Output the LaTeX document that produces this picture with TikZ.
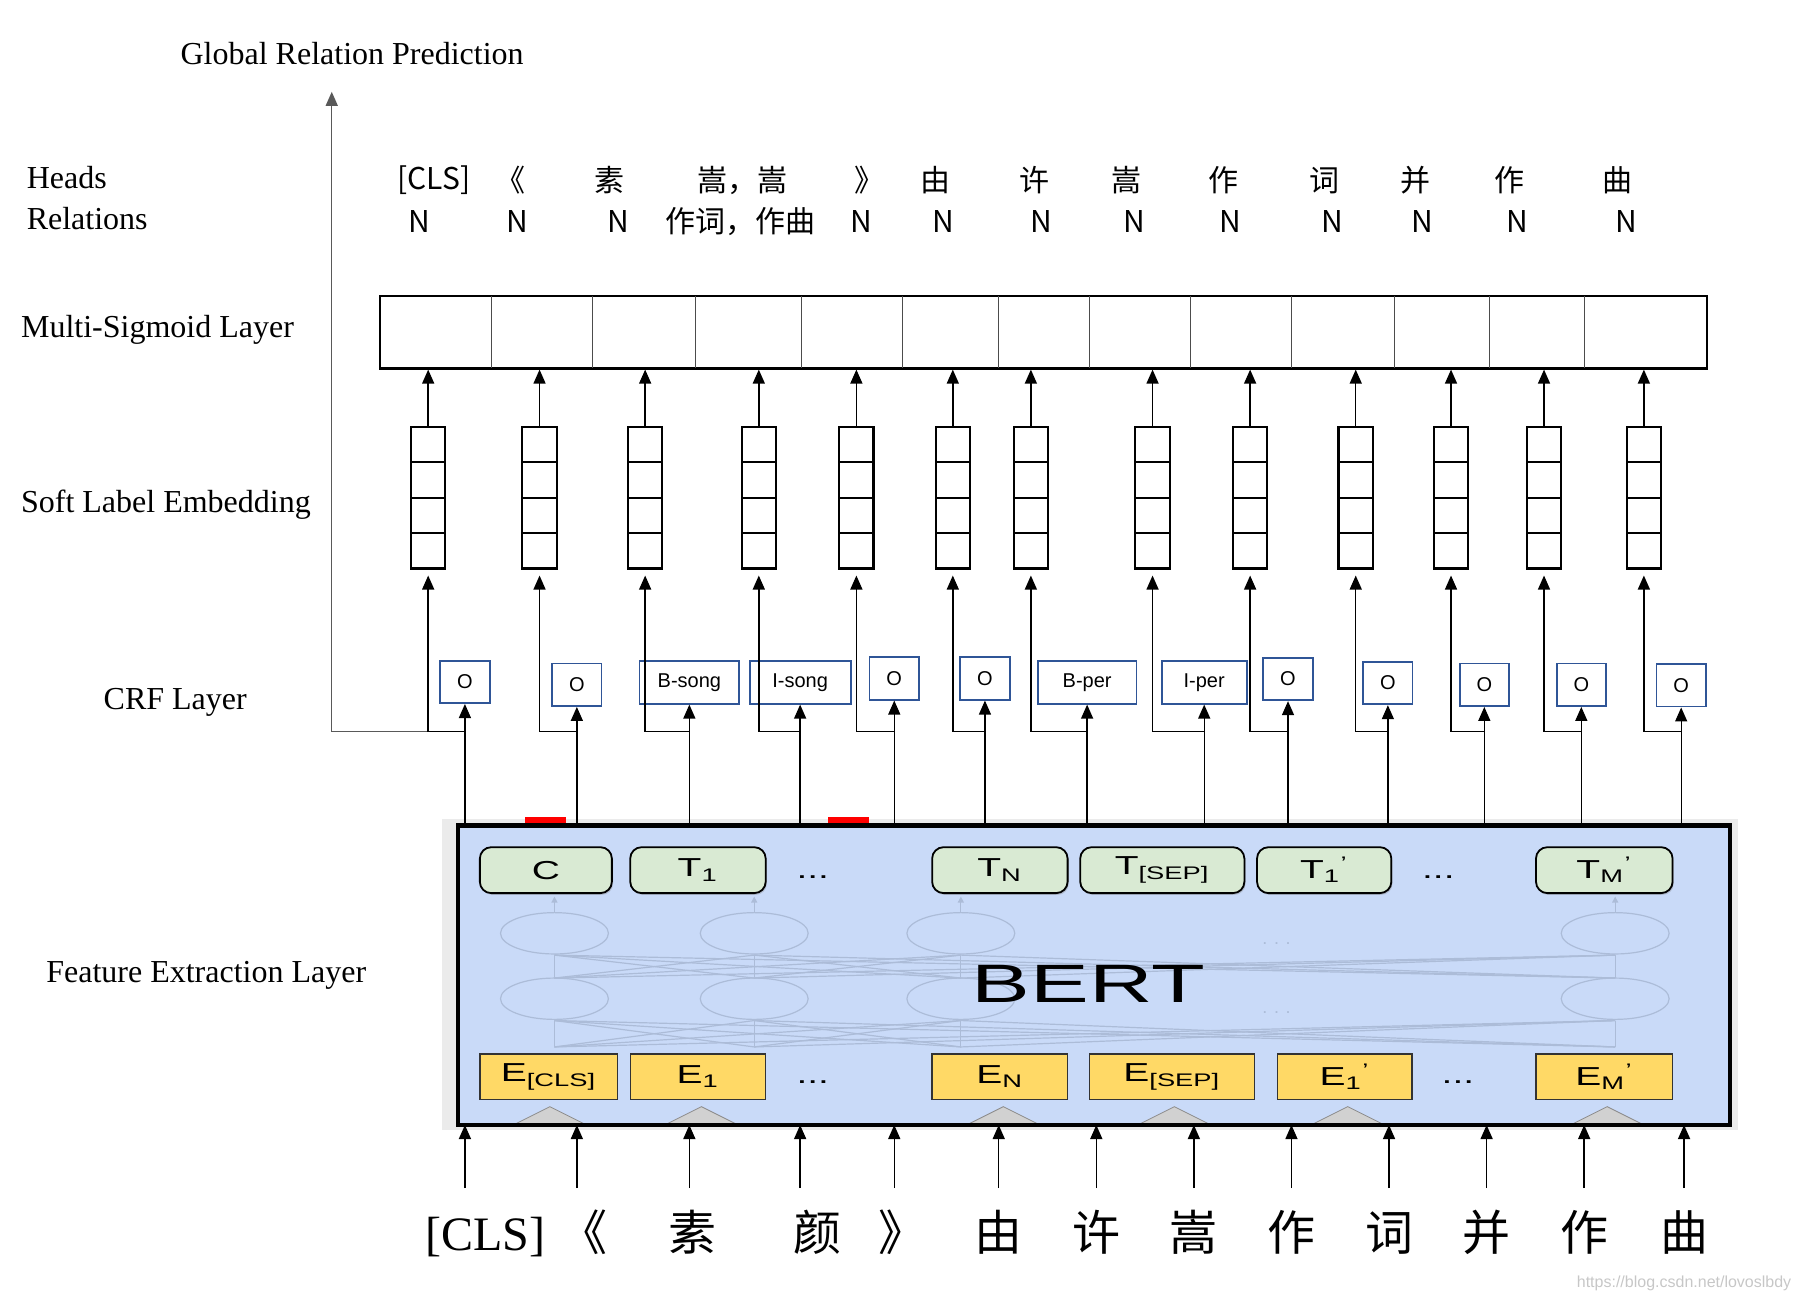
\documentclass[tikz,border=0pt]{standalone}
\usepackage{fontspec,graphicx}
\setmainfont{Liberation Serif}
\setsansfont{Liberation Sans}
\newfontfamily\cjk{Noto Sans CJK SC}
\usetikzlibrary{arrows.meta,shapes.multipart,shadows}
\definecolor{bertblue}{RGB}{201,218,248}
\definecolor{tgreen}{RGB}{217,234,211}
\definecolor{eyellow}{RGB}{255,217,102}
\definecolor{crfblue}{RGB}{47,85,151}
\definecolor{faint}{RGB}{172,188,216}
\newcommand{\upx}{0.574pt}
\newcommand{\hst}[1]{\scalebox{1.5}[1]{#1}}

\begin{document}
\begin{tikzpicture}[x=\upx,y=-\upx,
 lab/.style={anchor=west,inner sep=0,font=\fontsize{16}{18}\selectfont},
 hd/.style={inner sep=0,font=\cjk\fontsize{15}{17}\selectfont},
 wd/.style={inner sep=0,outer ysep=11pt,text height=20pt,text depth=4pt,font=\cjk\fontsize{24}{28}\selectfont},
 crf/.style={draw=crfblue,line width=0.9pt,minimum width=43*\upx,minimum height=37*\upx,inner sep=1pt,font=\sffamily\fontsize{10}{12}\selectfont},
 sl/.style={draw,line width=1.1pt,rectangle split,rectangle split parts=4,rectangle split ignore empty parts=false,
  rectangle split empty part height=16.6pt,rectangle split empty part depth=0pt,rectangle split empty part width=12.6pt,inner sep=0pt},
 tk/.style={draw,rounded corners=2mm,fill=tgreen,line width=0.9pt,minimum height=40*\upx,inner sep=0,
  drop shadow={shadow xshift=0.6pt,shadow yshift=-0.9pt,opacity=.35},font=\sffamily\fontsize{13}{15}\selectfont},
 ek/.style={draw=black!80,fill=eyellow,line width=0.7pt,minimum height=40*\upx,inner sep=0,font=\sffamily\fontsize{13}{15}\selectfont},
 ln/.style={line width=0.7pt},
 >={Triangle[length=7pt,width=6pt]}]
\useasboundingbox (0,0) rectangle (1568,1134);
% layer names
\node[lab] (gl) at (157,47) {Global Relation Prediction};
\node[lab] (hl) at (23,155) {Heads};
\node[lab] (rl) at (23,190) {Relations};
\node[lab] (ml) at (18,287) {Multi-Sigmoid Layer};
\node[lab] (sll) at (18,440) {Soft Label Embedding};
\node[lab] (cl) at (90,612) {CRF Layer};
\node[lab] (fl) at (40,850) {Feature Extraction Layer};
\coordinate (tp) at (289,80);
\coordinate (br) at (0,637);
% heads and relations
\node[hd] (h1) at (378,157) {[CLS]}; \node[hd] (h2) at (445,157) {《}; \node[hd] (h3) at (531,157) {素};
\node[hd] (h4) at (647,157) {嵩，嵩}; \node[hd] (h5) at (757,157) {》}; \node[hd] (h6) at (815,157) {由};
\node[hd] (h7) at (901,157) {许}; \node[hd] (h8) at (981,157) {嵩}; \node[hd] (h9) at (1066,157) {作};
\node[hd] (h10) at (1154,157) {词}; \node[hd] (h11) at (1233,157) {并}; \node[hd] (h12) at (1315,157) {作};
\node[hd] (h13) at (1409,157) {曲};
\node[hd] (r1) at (365,193) {N}; \node[hd] (r2) at (451,193) {N}; \node[hd] (r3) at (539,193) {N};
\node[hd] (r4) at (645,193) {作词，作曲}; \node[hd] (r5) at (750,193) {N}; \node[hd] (r6) at (822,193) {N};
\node[hd] (r7) at (907,193) {N}; \node[hd] (r8) at (988,193) {N}; \node[hd] (r9) at (1072,193) {N};
\node[hd] (r10) at (1161,193) {N}; \node[hd] (r11) at (1239,193) {N}; \node[hd] (r12) at (1322,193) {N};
\node[hd] (r13) at (1417,193) {N};
% multi-sigmoid layer
\node[draw,line width=1.1pt,minimum width=1156*\upx,minimum height=63*\upx,inner sep=0] (ms) at (909,289.5) {};
\draw[black!70] (428,258)--(428,321) (516,258)--(516,321) (606,258)--(606,321) (698,258)--(698,321)
 (786,258)--(786,321) (870,258)--(870,321) (949,258)--(949,321) (1037,258)--(1037,321)
 (1125,258)--(1125,321) (1215,258)--(1215,321) (1297,258)--(1297,321) (1380,258)--(1380,321);
% soft label embedding
\node[sl] (s1) at (373,433.5) {}; \node[sl] (s2) at (470,433.5) {}; \node[sl] (s3) at (562,433.5) {};
\node[sl] (s4) at (661,433.5) {}; \node[sl] (s5) at (746,433.5) {}; \node[sl] (s6) at (830,433.5) {};
\node[sl] (s7) at (898,433.5) {}; \node[sl] (s8) at (1004,433.5) {}; \node[sl] (s9) at (1089,433.5) {};
\node[sl] (s10) at (1181,433.5) {}; \node[sl] (s11) at (1264,433.5) {}; \node[sl] (s12) at (1345,433.5) {};
\node[sl] (s13) at (1432,433.5) {};
% crf layer
\node[crf] (c1) at (405,594) {O}; \node[crf] (c2) at (502.5,596.5) {O};
\node[crf,minimum width=87*\upx] (c3) at (600.5,594.5) {B-song};
\node[crf,minimum width=88*\upx] (c4) at (697,594.5) {I-song};
\node[crf] (c5) at (779,591) {O}; \node[crf] (c6) at (858,591) {O};
\node[crf,minimum width=86*\upx] (c7) at (947,594.5) {B-per};
\node[crf,minimum width=74*\upx] (c8) at (1049,594.5) {I-per};
\node[crf] (c9) at (1122,591.5) {O}; \node[crf] (c10) at (1209,595) {O}; \node[crf] (c11) at (1293,596.5) {O};
\node[crf] (c12) at (1377.5,596.5) {O}; \node[crf] (c13) at (1464.5,597) {O};
% bert block
\fill[black!8] (385,713) rectangle (1514,984);
\node[draw,line width=2.3pt,fill=bertblue,outer sep=0,minimum width=1108*\upx,minimum height=261*\upx,inner sep=0] (bert) at (953,849.5) {};
\fill[red] (457,712) rectangle (493,717); \fill[red] (721,712) rectangle (757,717);
\begin{scope}[draw=faint,line width=0.6pt]
\foreach \x in {483,657,837,1407}{
 \draw (\x,813) ellipse (47 and 18); \draw (\x,870) ellipse (47 and 18);
 \draw[-{Triangle[length=3pt,width=3pt]}] (\x,795) -- (\x,781);
 \foreach \y in {483,657,837,1407}{\draw (\y,912) -- (\x,889); \draw (\y,852) -- (\x,832);}}
\end{scope}
\node[text=faint,font=\sffamily\small] (dd1) at (1112,822) {. . .};
\node[text=faint,font=\sffamily\small] (dd2) at (1112,882) {. . .};
\node[font=\sffamily\fontsize{27}{30}\selectfont] (bt) at (948,857) {\scalebox{1.63}[1]{BERT}};
\node[tk,minimum width=115*\upx] (t1) at (475.5,758) {\hst{C}};
\node[tk,minimum width=118*\upx] (t2) at (608,758) {\hst{T\textsubscript{1}}};
\node[tk,minimum width=118*\upx] (t3) at (871,758) {\hst{T\textsubscript{N}}};
\node[tk,minimum width=143*\upx] (t4) at (1012.5,758) {\hst{T\textsubscript{[SEP]}}};
\node[tk,minimum width=117*\upx] (t5) at (1153.5,758) {\hst{T\textsubscript{1}\textsuperscript{’}}};
\node[tk,minimum width=119*\upx] (t6) at (1397.5,758) {\hst{T\textsubscript{M}\textsuperscript{’}}};
\node[font=\sffamily\fontsize{13}{15}\selectfont] (td1) at (708,764) {\hst{...}};
\node[font=\sffamily\fontsize{13}{15}\selectfont] (td2) at (1253,764) {\hst{...}};
\node[ek,minimum width=120*\upx] (e1) at (478,938) {\hst{E\textsubscript{[CLS]}}};
\node[ek,minimum width=118*\upx] (e2) at (608,938) {\hst{E\textsubscript{1}}};
\node[ek,minimum width=118*\upx] (e3) at (871,938) {\hst{E\textsubscript{N}}};
\node[ek,minimum width=144*\upx] (e4) at (1021,938) {\hst{E\textsubscript{[SEP]}}};
\node[ek,minimum width=117*\upx] (e5) at (1171.5,938) {\hst{E\textsubscript{1}\textsuperscript{’}}};
\node[ek,minimum width=119*\upx] (e6) at (1397.5,938) {\hst{E\textsubscript{M}\textsuperscript{’}}};
\node[font=\sffamily\fontsize{13}{15}\selectfont] (ed1) at (708,943) {\hst{...}};
\node[font=\sffamily\fontsize{13}{15}\selectfont] (ed2) at (1270,943) {\hst{...}};
\filldraw[fill=black!18,draw=black!45] (445,981)--(479,964)--(513,981)--cycle;
\filldraw[fill=black!18,draw=black!45] (577,981)--(611,964)--(645,981)--cycle;
\filldraw[fill=black!18,draw=black!45] (840,981)--(874,964)--(908,981)--cycle;
\filldraw[fill=black!18,draw=black!45] (989,981)--(1023,964)--(1057,981)--cycle;
\filldraw[fill=black!18,draw=black!45] (1140,981)--(1174,964)--(1208,981)--cycle;
\filldraw[fill=black!18,draw=black!45] (1366,981)--(1400,964)--(1434,981)--cycle;
\draw[line width=2.3pt] (bert.south west) -- (bert.south east);
% input tokens
\node[wd,font=\fontsize{24}{28}\selectfont] (w1) at (423,1075) {[CLS]}; \node[wd] (w2) at (508,1075) {《};
\node[wd] (w3) at (603,1075) {素}; \node[wd] (w4) at (712,1075) {颜}; \node[wd] (w5) at (786,1075) {》};
\node[wd] (w6) at (870,1075) {由}; \node[wd] (w7) at (955,1075) {许}; \node[wd] (w8) at (1040,1075) {嵩};
\node[wd] (w9) at (1125,1075) {作}; \node[wd] (w10) at (1210,1075) {词}; \node[wd] (w11) at (1295,1075) {并};
\node[wd] (w12) at (1380,1075) {作}; \node[wd] (w13) at (1467,1075) {曲};
\node[text=black!22,font=\sffamily\fontsize{8}{9}\selectfont] (wm) at (1467,1118) {https://blog.csdn.net/lovoslbdy};
% connectors
\draw[ln,->] (c1 |- w1.north)--(c1 |- bert.south); \draw[ln,->] (c2 |- w2.north)--(c2 |- bert.south);
\draw[ln,->] (c3 |- w3.north)--(c3 |- bert.south); \draw[ln,->] (c4 |- w4.north)--(c4 |- bert.south);
\draw[ln,->] (c5 |- w5.north)--(c5 |- bert.south); \draw[ln,->] (w6.north)--(w6 |- bert.south);
\draw[ln,->] (w7.north)--(w7 |- bert.south); \draw[ln,->] (w8.north)--(w8 |- bert.south);
\draw[ln,->] (w9.north)--(w9 |- bert.south); \draw[ln,->] (w10.north)--(w10 |- bert.south);
\draw[ln,->] (w11.north)--(w11 |- bert.south); \draw[ln,->] (w12.north)--(w12 |- bert.south);
\draw[ln,->] (w13.north)--(w13 |- bert.south);
\draw[ln,->] (c1 |- bert.north)--(c1.south); \draw[ln,->] (c2 |- bert.north)--(c2.south);
\draw[ln,->] (c3 |- bert.north)--(c3.south); \draw[ln,->] (c4 |- bert.north)--(c4.south);
\draw[ln,->] (c5 |- bert.north)--(c5.south); \draw[ln,->] (c6 |- bert.north)--(c6.south);
\draw[ln,->] (c7 |- bert.north)--(c7.south); \draw[ln,->] (c8 |- bert.north)--(c8.south);
\draw[ln,->] (c9 |- bert.north)--(c9.south); \draw[ln,->] (c10 |- bert.north)--(c10.south);
\draw[ln,->] (c11 |- bert.north)--(c11.south); \draw[ln,->] (c12 |- bert.north)--(c12.south);
\draw[ln,->] (c13 |- bert.north)--(c13.south);
\draw[ln,->,black!65] (c1 |- br) -| (tp);
\draw[ln,->,shorten >=3pt] (c1 |- br) -| (s1.south); \draw[ln,->,shorten >=3pt] (c2 |- br) -| (s2.south);
\draw[ln,->,shorten >=3pt] (c3 |- br) -| (s3.south); \draw[ln,->,shorten >=3pt] (c4 |- br) -| (s4.south);
\draw[ln,->,shorten >=3pt] (c5 |- br) -| (s5.south); \draw[ln,->,shorten >=3pt] (c6 |- br) -| (s6.south);
\draw[ln,->,shorten >=3pt] (c7 |- br) -| (s7.south); \draw[ln,->,shorten >=3pt] (c8 |- br) -| (s8.south);
\draw[ln,->,shorten >=3pt] (c9 |- br) -| (s9.south); \draw[ln,->,shorten >=3pt] (c10 |- br) -| (s10.south);
\draw[ln,->,shorten >=3pt] (c11 |- br) -| (s11.south); \draw[ln,->,shorten >=3pt] (c12 |- br) -| (s12.south);
\draw[ln,->,shorten >=3pt] (c13 |- br) -| (s13.south);
\draw[ln,->] (s1.north)--(s1 |- ms.south); \draw[ln,->] (s2.north)--(s2 |- ms.south);
\draw[ln,->] (s3.north)--(s3 |- ms.south); \draw[ln,->] (s4.north)--(s4 |- ms.south);
\draw[ln,->] (s5.north)--(s5 |- ms.south); \draw[ln,->] (s6.north)--(s6 |- ms.south);
\draw[ln,->] (s7.north)--(s7 |- ms.south); \draw[ln,->] (s8.north)--(s8 |- ms.south);
\draw[ln,->] (s9.north)--(s9 |- ms.south); \draw[ln,->] (s10.north)--(s10 |- ms.south);
\draw[ln,->] (s11.north)--(s11 |- ms.south); \draw[ln,->] (s12.north)--(s12 |- ms.south);
\draw[ln,->] (s13.north)--(s13 |- ms.south);
\end{tikzpicture}
\end{document}
